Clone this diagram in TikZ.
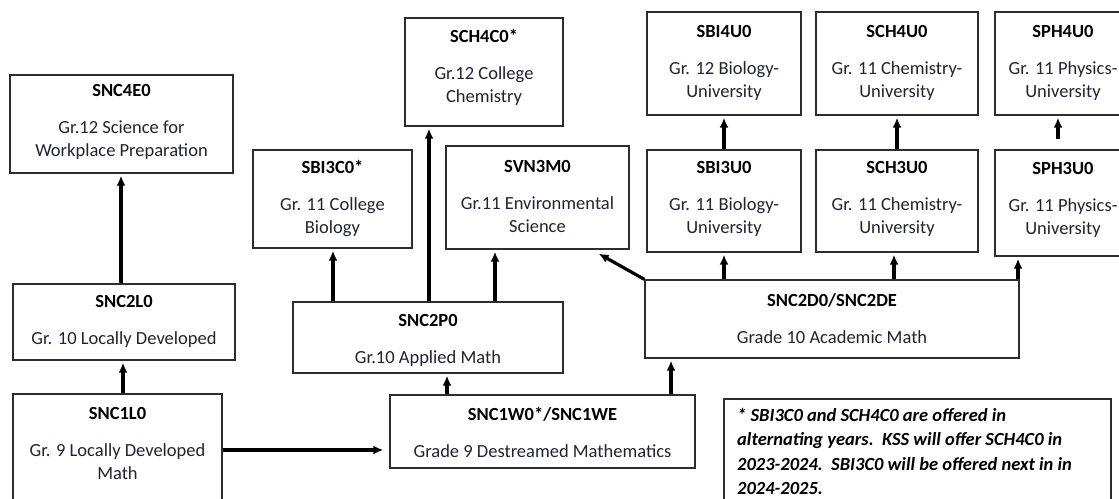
\documentclass[tikz,border=0pt]{standalone}
\usepackage{fontspec}
\setmainfont{Carlito}
\usetikzlibrary{arrows.meta,calc}

\definecolor{bodyink}{RGB}{34,34,52}
\definecolor{frameink}{RGB}{45,45,45}

\tikzset{
  coursebox/.style={draw=frameink, line width=1.3pt, inner sep=0pt, fill=white},
  coursetext/.style={align=center, inner sep=0pt, text=bodyink,
    font=\fontsize{18.5}{23}\selectfont},
  notetext/.style={align=left, inner sep=0pt, text=black,
    font=\fontsize{18.5}{24.5}\selectfont\bfseries\itshape},
  arr/.style={line width=3.2pt, -{Latex[length=10pt,width=9pt]}, shorten >=2pt}
}

% name, box centre, box width, box height, text centre, code, title
\newcommand{\course}[7]{%
  \node[coursebox, minimum width=#3pt, minimum height=#4pt] (#1) at (#2) {};
  \node[coursetext] (#1-text) at (#5) {\textcolor{black}{\textbf{#6}}\\[14pt]#7};
}

\begin{document}
\begin{tikzpicture}[x=1pt, y=-1pt]
\useasboundingbox (0,0) rectangle (1119,498);

% locally developed stream
\course{snc4e0}{121.5,124}{223}{98}{121.5,122}{SNC4E0}{Gr.12 Science for\\Workplace Preparation}
\course{snc2l0}{124,322}{222}{76}{124,321}{SNC2L0}{Gr. 10 Locally Developed}
\course{snc1l0}{117.5,457}{209}{126}{117.5,443}{SNC1L0}{Gr. 9 Locally Developed\\Math}

% applied / college stream
\course{sbi3c0}{332.5,199}{159}{98}{332.5,198}{SBI3C0*}{Gr. 11 College\\Biology}
\course{sch4c0}{484,72}{158}{108}{484,67}{SCH4C0*}{Gr.12 College\\Chemistry}
\course{svn3m0}{537.5,197.5}{183}{103}{537.5,196}{SVN3M0}{Gr.11 Environmental\\Science}
\course{snc2p0}{428,337.5}{270}{71}{428,340}{SNC2P0}{Gr.10 Applied Math}
\course{snc1w0}{542.5,431.5}{305}{73}{542.5,432.5}{SNC1W0*/SNC1WE}{Grade 9 Destreamed Mathematics}

% academic / university stream
\course{snc2d0}{832,319}{374}{78}{832,318.5}{SNC2D0/SNC2DE}{Grade 10 Academic Math}
\course{sbi4u0}{724,63.5}{154}{103}{724,63}{SBI4U0}{Gr. 12 Biology-\\University}
\course{sch4u0}{897,63.5}{162}{103}{897,63}{SCH4U0}{Gr. 11 Chemistry-\\University}
\course{sph4u0}{1063,63.5}{136}{103}{1063,63}{SPH4U0}{Gr. 11 Physics-\\University}
\course{sbi3u0}{724,201}{154}{102}{724,199}{SBI3U0}{Gr. 11 Biology-\\University}
\course{sch3u0}{897,201}{162}{102}{897,199}{SCH3U0}{Gr. 11 Chemistry-\\University}
\course{sph3u0}{1063,203}{136}{106}{1063,200}{SPH3U0}{Gr. 11 Physics-\\University}

% footnote
\node[coursebox, minimum width=387pt, minimum height=121pt] (note) at (917.5,459.5) {};
\node[notetext, anchor=north west] (note-text) at (737,408)
  {* SBI3C0 and SCH4C0 are offered in\\
   alternating years.\ \ KSS will offer SCH4C0 in\\
   2023-2024.\ \ SBI3C0 will be offered next in in\\
   2024-2025.};

% prerequisite arrows
\draw[arr] (snc2l0.north -| 121,0) -- (snc4e0.south -| 121,0);
\draw[arr] (snc1l0.north -| 123,0) -- (snc2l0.south -| 123,0);
\draw[arr, shorten >=6pt] (snc1l0.east |- 0,450) -- (snc1w0.west |- 0,450);

\draw[arr] (snc1w0.north -| 447,0) -- (snc2p0.south -| 447,0);
\draw[arr] (snc1w0.north -| 671,0) -- (snc2d0.south -| 671,0);

\draw[arr] (snc2p0.north -| 333,0) -- (sbi3c0.south -| 333,0);
\draw[arr] (snc2p0.north -| 429,0) -- (sch4c0.south -| 429,0);
\draw[arr] (snc2p0.north -| 495,0) -- (svn3m0.south -| 495,0);

\draw[arr, shorten >=0pt] (snc2d0.north west) -- ($(svn3m0.south east)+(-31,4)$);
\draw[arr] (snc2d0.north -| 724,0) -- (sbi3u0.south -| 724,0);
\draw[arr] (snc2d0.north -| 894,0) -- (sch3u0.south -| 894,0);
\draw[arr] (snc2d0.north -| 1018,0) -- (sph3u0.south -| 1018,0);

\draw[arr] (sbi3u0.north -| 724,0) -- (sbi4u0.south -| 724,0);
\draw[arr] (sch3u0.north -| 897,0) -- (sch4u0.south -| 897,0);
\draw[arr, shorten <=10pt] (sph3u0.north -| 1058,0) -- (sph4u0.south -| 1058,0);
\end{tikzpicture}
\end{document}
